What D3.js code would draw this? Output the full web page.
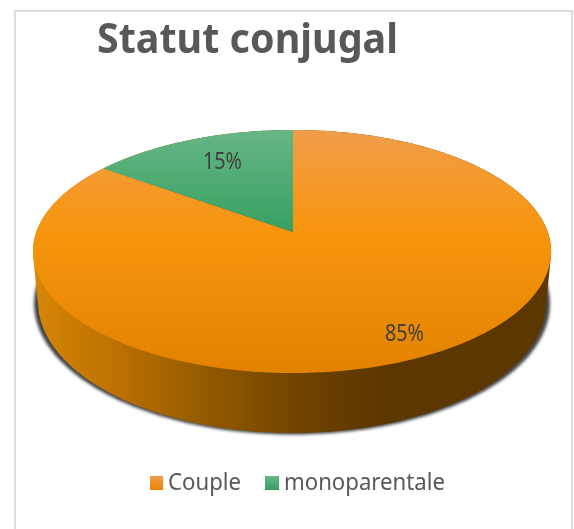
<!DOCTYPE html>
<html><head><meta charset="utf-8">
<script src="https://cdn.jsdelivr.net/npm/d3@7"></script>
<style>html,body{margin:0;padding:0;background:#fff}svg{display:block}</style>
</head><body><div id="c"></div>
<script>
const categories=["Couple","monoparentale"];
const values=[85,15];
const labels=["85%","15%"];
const titleText="Statut conjugal";
const W=574,H=529;
const svg=d3.select("#c").append("svg").attr("width",W).attr("height",H);
const defs=svg.append("defs");
function grad(id,x1,y1,x2,y2,stops){
  const g=defs.append("linearGradient").attr("id",id).attr("gradientUnits","userSpaceOnUse")
   .attr("x1",x1).attr("y1",y1).attr("x2",x2).attr("y2",y2);
  stops.forEach(s=>g.append("stop").attr("offset",s[0]).attr("stop-color",s[1]));
}
grad("gO",0,130,0,373,[[0,"#f09c4a"],[.2,"#f49a2c"],[.42,"#f7950c"],[1,"#e28200"]]);
grad("gG",0,130,0,233,[[0,"#66b683"],[1,"#37a062"]]);
grad("gS",36,0,550,0,[[0,"#d68606"],[.17,"#b96f02"],[.35,"#8f5700"],[.55,"#6a3f00"],[.68,"#5c3700"],[1,"#5c3700"]]);
grad("lO",0,476,0,490,[[0,"#f09c4a"],[1,"#ea8600"]]);
grad("lG",0,476,0,490,[[0,"#66b683"],[1,"#37a062"]]);
defs.append("filter").attr("id","blur").attr("x","-10%").attr("y","-10%").attr("width","120%").attr("height","120%")
  .append("feGaussianBlur").attr("stdDeviation",1.8);
defs.append("filter").attr("id","soft").append("feGaussianBlur").attr("stdDeviation",0.45);

svg.append("rect").attr("x",15).attr("y",11).attr("width",557).attr("height",530)
  .attr("fill","#fff").attr("stroke","#dcdcdc").attr("stroke-width",2);

// perspective projection of the unit disc
const cx=292,y0=232,A=255.7,B=118.4,k=0.1605;
const proj=(a,r=1)=>{const s=Math.sin(a)*r,c=Math.cos(a)*r,w=1+k*c;return [cx+A*s/w+(1-s*s),y0-B*c/w];};
const pie=d3.pie().sort(null).startAngle(0).endAngle(2*Math.PI);
const arcs=pie(values);
const line=d3.line();
const sector=d=>{
  const n=240,pts=[proj(0,0)];
  d3.range(n+1).forEach(i=>pts.push(proj(d.startAngle+(d.endAngle-d.startAngle)*i/n)));
  return line(pts)+"Z";
};
// bottom rim: same outline, slightly narrower and taller, pushed down
const fx=0.98,fy=1.078,cy0=251.5,dz=50.5;
const low=p=>[cx+(p[0]-cx)*fx,cy0+(p[1]-cy0)*fy+dz];
const ring=d3.range(360).map(i=>proj(i*Math.PI/180));
const lowRing=ring.map(low);
const body=d3.polygonHull(ring.concat(lowRing));
const shadowRing=lowRing.map(p=>[cx+(p[0]-cx)*1.016,p[1]+1.5]);
svg.append("path").attr("d",line(shadowRing)+"Z").attr("fill","#454545").attr("filter","url(#blur)");
svg.append("path").attr("d",line(body)+"Z").attr("fill","url(#gS)");

const fills=["url(#gO)","url(#gG)"];
svg.selectAll("path.s").data(arcs).join("path").attr("class","s").attr("d",sector).attr("fill",(d,i)=>fills[i]);

// data labels
const labelPos=[[385,341],[203,169]];
svg.selectAll("text.l").data(labels).join("text").attr("class","l")
  .attr("x",(d,i)=>labelPos[i][0]).attr("y",(d,i)=>labelPos[i][1])
  .attr("font-family","'Noto Sans'").attr("font-size",24).attr("textLength",39).attr("lengthAdjust","spacingAndGlyphs")
  .attr("fill","#404040").attr("filter","url(#soft)").text(d=>d);

svg.append("text").attr("x",97).attr("y",53).attr("font-family","'Noto Sans'").attr("font-weight",700)
  .attr("font-size",41).attr("fill","#595959").attr("textLength",301).attr("lengthAdjust","spacingAndGlyphs")
  .attr("filter","url(#soft)").text(titleText);

const legX=[150,265],legT=[168,284],legW=[73,161],legF=["url(#lO)","url(#lG)"];
categories.forEach((c,i)=>{
  svg.append("rect").attr("x",legX[i]).attr("y",476).attr("width",[13,14][i]).attr("height",14).attr("fill",legF[i]);
  svg.append("text").attr("x",legT[i]).attr("y",490).attr("font-family","'Noto Sans'").attr("font-size",23)
    .attr("fill","#595959").attr("textLength",legW[i]).attr("lengthAdjust","spacingAndGlyphs")
    .attr("filter","url(#soft)").text(c);
});
</script></body></html>
